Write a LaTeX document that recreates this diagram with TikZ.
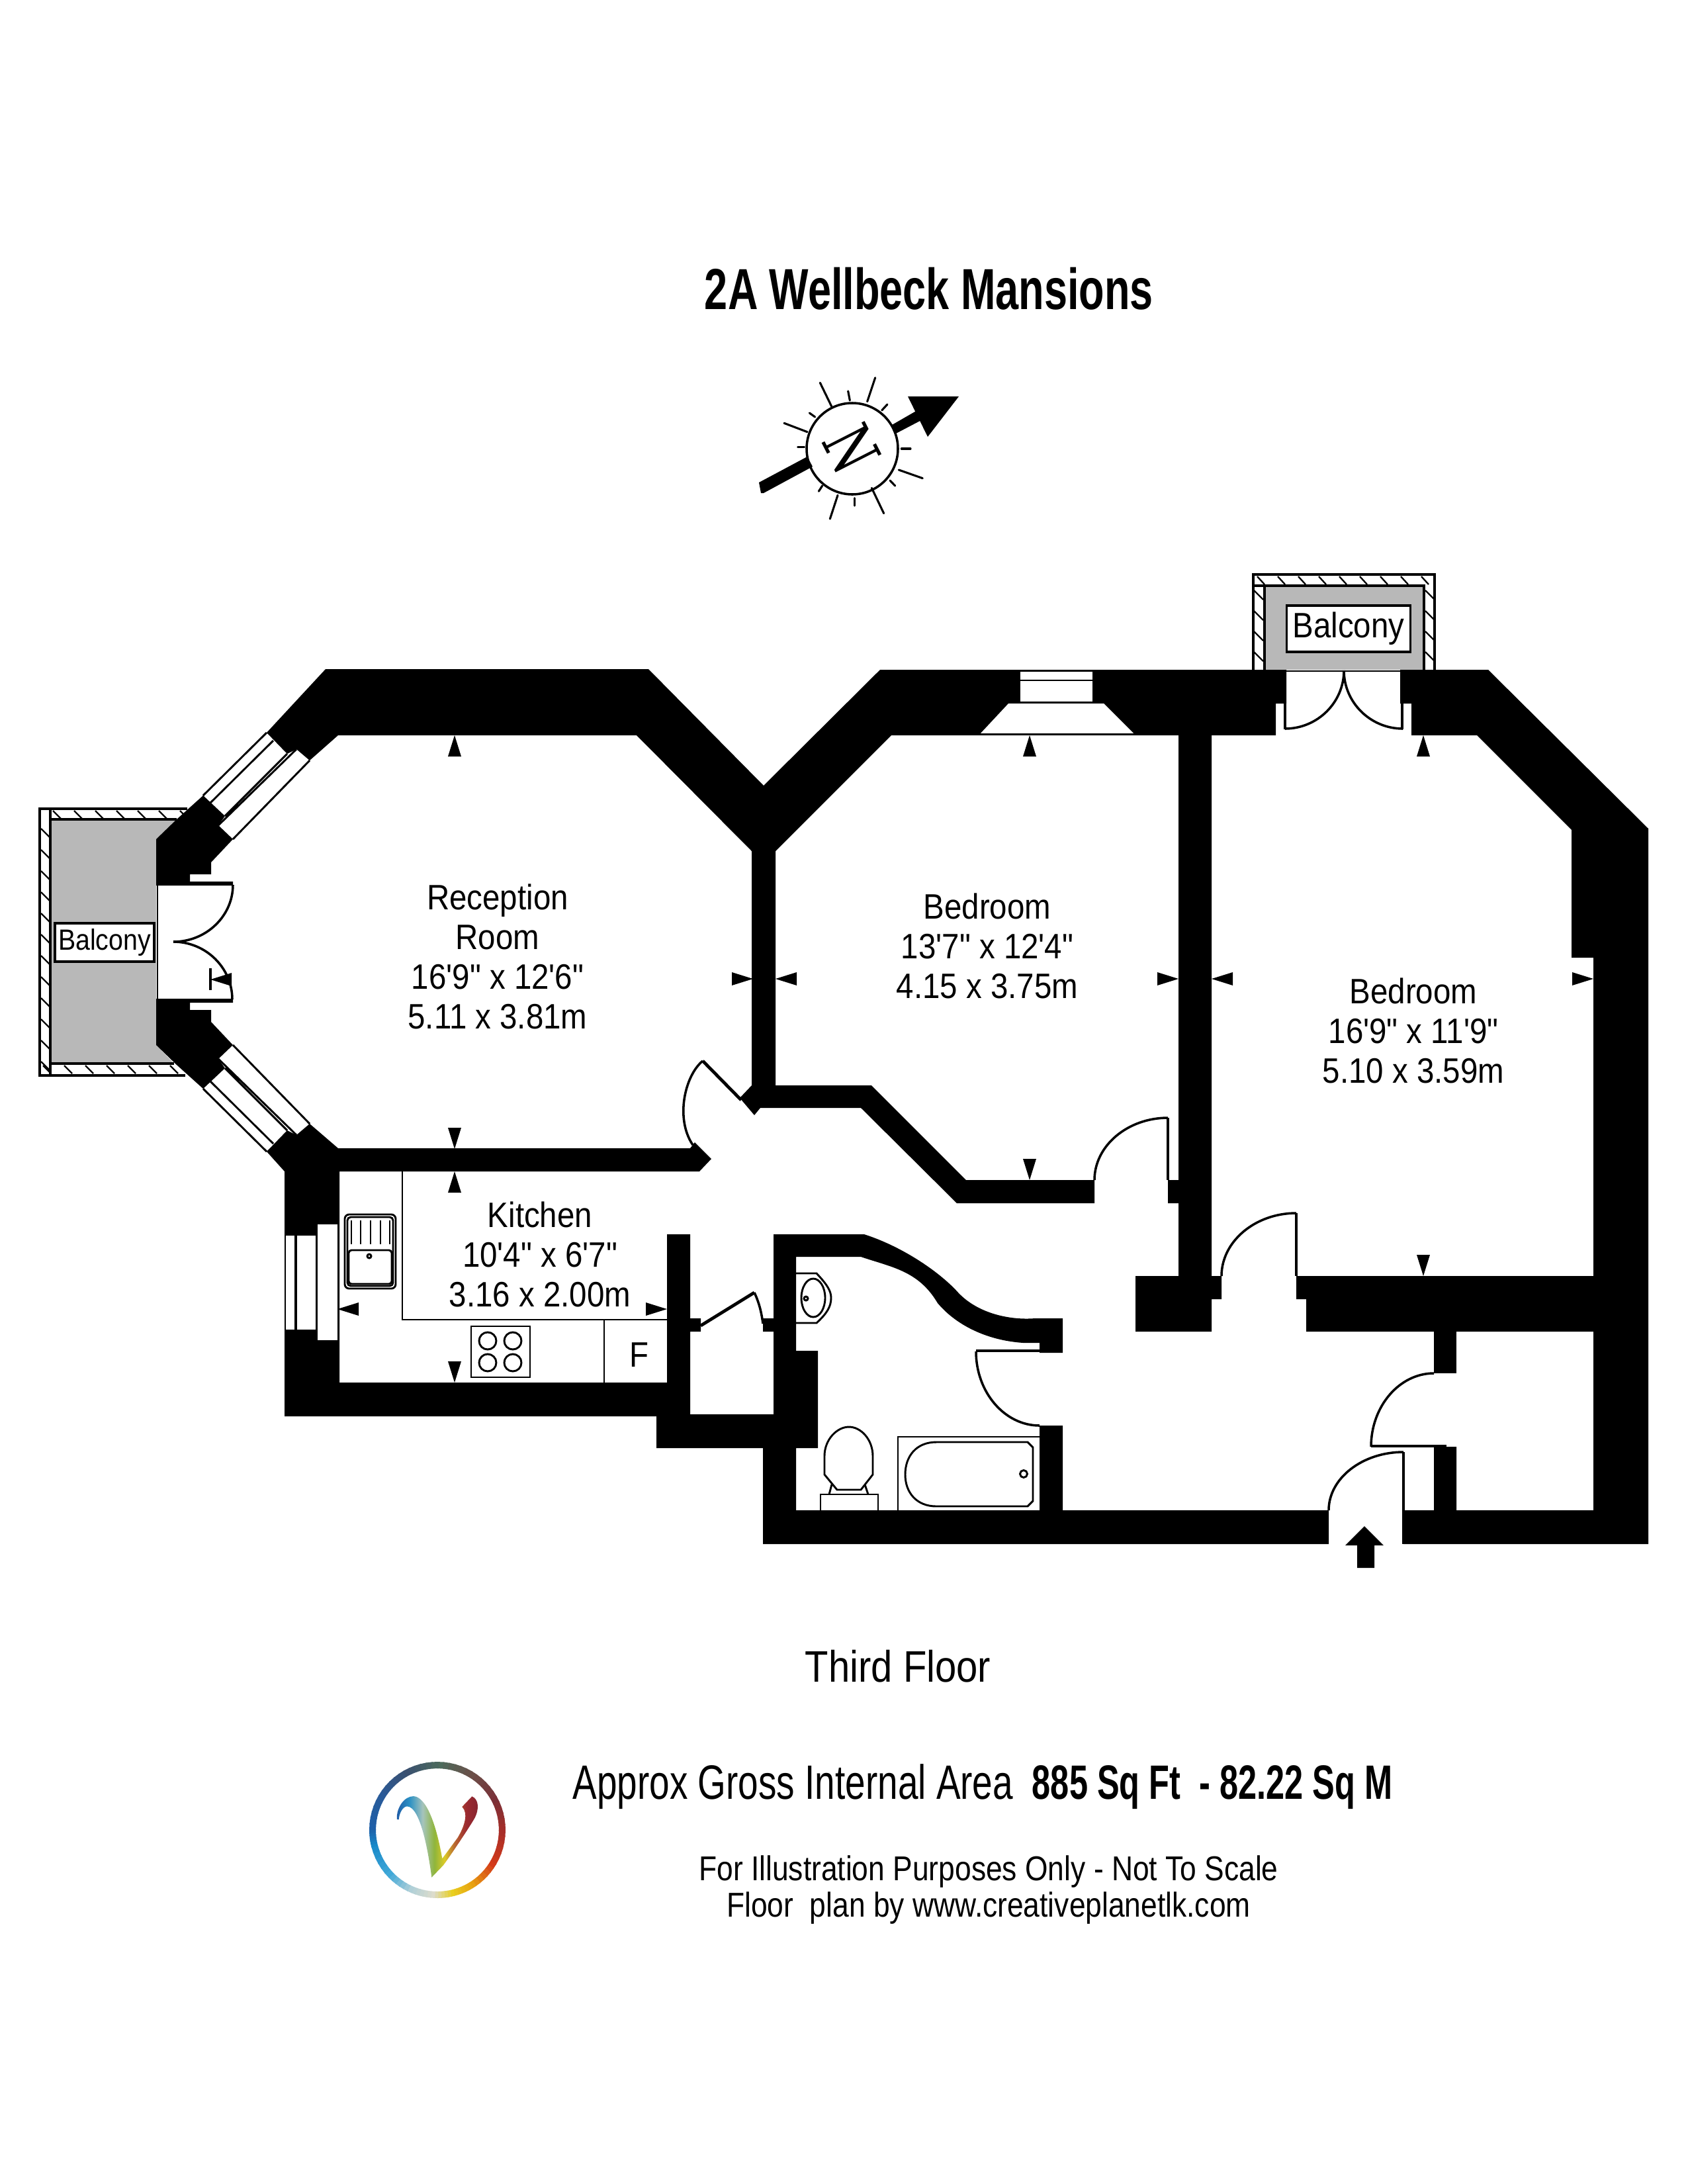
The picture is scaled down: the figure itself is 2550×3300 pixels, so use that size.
\documentclass[tikz,border=0pt]{standalone}
\usepackage{fontspec}
\usetikzlibrary{calc}
\newfontfamily\roomfont[FakeStretch=.89]{Liberation Sans}
\newfontfamily\titlefont[FakeStretch=.72]{Liberation Sans}
\newfontfamily\floorfont[FakeStretch=.87]{Liberation Sans}
\newfontfamily\areafont[FakeStretch=.753]{Liberation Sans}
\newfontfamily\areabold[FakeStretch=.693]{Liberation Sans}
\newfontfamily\notefont[FakeStretch=.852]{Liberation Sans}
\newfontfamily\compfont[FakeStretch=.72]{DejaVu Serif}
\definecolor{balc}{HTML}{B8B8B8}
\definecolor{logoa}{HTML}{4D6B5C}
\definecolor{logob}{HTML}{6B4F48}
\definecolor{logoc}{HTML}{7A3038}
\definecolor{logod}{HTML}{A82E28}
\definecolor{logoe}{HTML}{D43A1A}
\definecolor{logof}{HTML}{E8A010}
\definecolor{logog}{HTML}{E8CF20}
\definecolor{logoh}{HTML}{DCDCCC}
\definecolor{logoi}{HTML}{B0D0D8}
\definecolor{logoj}{HTML}{40A8D8}
\definecolor{logok}{HTML}{1888C8}
\definecolor{logol}{HTML}{1F5FA8}
\definecolor{logom}{HTML}{2A5A98}
\definecolor{logon}{HTML}{3A5070}
\definecolor{vblue}{HTML}{1F5AA6}
\definecolor{vsky}{HTML}{2A90C4}
\definecolor{vgrey}{HTML}{A6C4BC}
\definecolor{vgreen}{HTML}{8FB53A}
\definecolor{vyellow}{HTML}{DCCB28}
\definecolor{vbrown}{HTML}{B86630}
\definecolor{vred}{HTML}{9C2A30}
\definecolor{vdark}{HTML}{842430}
\pgfdeclarehorizontalshading{vlogo}{100bp}{
 color(0bp)=(vblue);
 color(25bp)=(vblue);
 color(33bp)=(vsky);
 color(41bp)=(vgrey);
 color(48bp)=(vgreen);
 color(54bp)=(vyellow);
 color(60bp)=(vbrown);
 color(67bp)=(vred);
 color(75bp)=(vdark);
 color(100bp)=(vdark)}
\tikzset{
 x=.24pt,y=-.24pt,
 wall/.style={fill=black,draw=none},
 thinline/.style={draw=black,line width=.7pt},
 doorline/.style={draw=black,line width=.85pt},
 leaf/.style={draw=black,line width=1.15pt},
 hatchline/.style={draw=black,line width=.55pt},
 band/.style={draw=black,line width=.85pt},
 roomtext/.style={font=\roomfont\fontsize{12.8}{14.4}\selectfont,align=center,inner sep=0pt},
 balctext/.style={fill=white,draw=black,line width=.8pt,inner sep=0pt,align=center},
 ray/.style={draw=black,line width=.75pt,line cap=round},
}
\newcommand\swing[3]{\draw[doorline] (#1) .. controls ($(#1)!.55!(#3)$) and ($(#2)!.55!(#3)$) .. (#2);}
\newcommand\tup[2]{\fill (#1,#2) -- ++(-10,32) -- ++(20,0) -- cycle;}
\newcommand\tdown[2]{\fill (#1,#2) -- ++(-10,-32) -- ++(20,0) -- cycle;}
\newcommand\tleft[2]{\fill (#1,#2) -- ++(32,-10) -- ++(0,20) -- cycle;}
\newcommand\tright[2]{\fill (#1,#2) -- ++(-32,-10) -- ++(0,20) -- cycle;}
\begin{document}
\begin{tikzpicture}
\useasboundingbox (0,0) rectangle (2550,3300);
\fill[white] (0,0) rectangle (2550,3300);

% title
\node[font=\titlefont\bfseries\fontsize{21}{25}\selectfont,inner sep=0pt] (title) at (1404,436) {2A Wellbeck Mansions};

% compass
\fill (1150,745) -- ++(4,0) -- (1228,705) -- (1220,690) -- (1147,729) -- cycle;
\fill (1348,642) -- (1354,655) -- (1396,633) -- (1388,619) -- cycle;
\fill (1372,599) -- (1449,599) -- (1402,660) -- cycle;
\draw[line width=.85pt] (1288,678) circle[radius=69];
\foreach \ax/\ay/\bx/\by in {478/115/530/222,728/92/692/200,315/298/420/338,835/510/943/548,558/625/523/732,712/592/767/707,605/153/613/195,783/213/758/240,430/252/455/270,377/407/407/407,847/414/888/414,795/558/818/582,488/582/472/607,635/638/635/672}
  \draw[ray] ({1080+\ax/3},{540+\ay/3}) -- ({1080+\bx/3},{540+\by/3});
\node[font=\compfont\fontsize{24}{28}\selectfont,rotate=-63,inner sep=0pt] (north) at (1287,678) {N};

% left balcony
\fill[white] (60,1222) -- (283,1222) -- (267,1238) -- (236,1268) -- (236,1579) -- (267,1609) -- (280,1625) -- (60,1625) -- cycle;
\fill[balc] (77,1238) -- (267,1238) -- (236,1268) -- (236,1579) -- (263,1607) -- (77,1607) -- cycle;
\draw[band] (283,1222) -- (60,1222) -- (60,1625) -- (280,1625);
\draw[band] (76,1222) -- (76,1625);
\draw[band] (267,1238) -- (76,1238);
\draw[band] (76,1607) -- (263,1607);
\foreach \k in {0,...,6} {
  \draw[hatchline] ({80+32*\k},1225) -- ++(12,12);
  \draw[hatchline] ({65+32*\k},1610) -- ++(12,12);
}
\foreach \k in {0,...,11} \draw[hatchline] (62,{1252+32*\k}) -- ++(13,13);
\node[balctext,minimum width=36pt,minimum height=13.9pt,font=\roomfont\fontsize{10.6}{12}\selectfont] (balconyL) at (158,1424) {Balcony};

% top balcony
\fill[white] (1894,868) rectangle (2168,1012);
\fill[balc] (1911,885) rectangle (2152,1012);
\draw[band] (1894,1012) -- (1894,868) -- (2168,868) -- (2168,1012);
\draw[band] (1911,1012) -- (1911,885) -- (2152,885) -- (2152,1012);
\draw[band] (1894,885) -- (1911,885);
\foreach \k in {0,...,8} \draw[hatchline] ({1900+31*\k},871) -- ++(11,12);
\foreach \k in {0,...,3} {
  \draw[hatchline] (1895,{892+31*\k}) -- ++(14,14);
  \draw[hatchline] (2154,{892+31*\k}) -- ++(13,13);
}
\node[balctext,minimum width=45pt,minimum height=16.8pt,font=\roomfont\fontsize{12.8}{14}\selectfont] (balconyT) at (2038,950) {Balcony};

% walls
\fill[wall] (403,1107) -- (492,1011) -- (980,1011) -- (1154,1187) -- (1330,1012) -- (1944,1012) -- (1944,1063) -- (1928,1063) -- (1928,1111) -- (1347,1111) -- (1172,1286) -- (1172,1640) -- (1317,1640) -- (1460,1783) -- (1654,1783) -- (1654,1818) -- (1446,1818) -- (1301,1674) -- (1149,1674) -- (1140,1685) -- (1118,1659) -- (1136,1640) -- (1136,1286) -- (962,1111) -- (511,1111) -- (468,1149) -- (448,1132) -- (434,1139) -- cycle;
\fill[wall] (1781,1100) -- (1831,1100) -- (1831,1928) -- (1846,1928) -- (1846,1963) -- (1831,1963) -- (1831,2012) -- (1716,2012) -- (1716,1928) -- (1781,1928) -- (1781,1818) -- (1765,1818) -- (1765,1783) -- (1781,1783) -- cycle;
\fill[wall] (2133,1111) -- (2133,1063) -- (2116,1063) -- (2116,1012) -- (2249,1012) -- (2491,1252) -- (2491,2333) -- (2121,2333) -- (2121,2282) -- (2167,2282) -- (2167,2186) -- (2201,2186) -- (2201,2282) -- (2408,2282) -- (2408,1447) -- (2375,1447) -- (2375,1254) -- (2232,1111) -- cycle;
\fill[wall] (1959,1928) -- (2412,1928) -- (2412,2012) -- (1974,2012) -- (1974,1963) -- (1959,1963) -- cycle;
\fill[wall] (2167,2012) rectangle (2201,2075);
\fill[wall] (403,1740) -- (434,1708) -- (448,1715) -- (468,1698) -- (511,1735) -- (1043,1735) -- (1050,1726) -- (1075,1751) -- (1057,1770) -- (513,1770) -- (513,2089) -- (1008,2089) -- (1008,1865) -- (1043,1865) -- (1043,1992) -- (1059,1992) -- (1059,2012) -- (1043,2012) -- (1043,2137) -- (1169,2137) -- (1169,2012) -- (1153,2012) -- (1153,1992) -- (1169,1992) -- (1169,1865) -- (1306,1865) .. controls (1368,1885) and (1423,1925) .. (1448,1953) .. controls (1478,1985) and (1527,1995) .. (1564,1992) -- (1606,1992) -- (1606,2044) -- (1571,2044) -- (1571,2029) -- (1546,2029) .. controls (1488,2025) and (1443,2000) .. (1417,1969) .. controls (1388,1920) and (1348,1915) .. (1301,1899) -- (1203,1899) -- (1203,2041) -- (1236,2041) -- (1236,2188) -- (1203,2188) -- (1203,2282) -- (1571,2282) -- (1571,2154) -- (1606,2154) -- (1606,2282) -- (2008,2282) -- (2008,2333) -- (1153,2333) -- (1153,2188) -- (992,2188) -- (992,2140) -- (430,2140) -- (430,1770) -- cycle;
\fill[wall] (236,1268) -- (267,1238) -- (307,1202) -- (340,1233) -- (330,1247) -- (352,1268) -- (319,1303) -- (319,1321) -- (287,1321) -- (287,1332) -- (352,1332) -- (352,1338) -- (236,1338) -- cycle;
\fill[wall] (236,1579) -- (267,1609) -- (307,1645) -- (340,1614) -- (330,1600) -- (352,1579) -- (319,1544) -- (319,1526) -- (287,1526) -- (287,1515) -- (352,1515) -- (352,1509) -- (236,1509) -- cycle;

% windows
\draw[thinline] (307,1202) -- (403,1107) (318,1213) -- (413,1119) (340,1233) -- (434,1139) (330,1247) -- (448,1132) (352,1268) -- (468,1149);
\draw[thinline] (307,1645) -- (403,1740) (318,1634) -- (413,1728) (340,1614) -- (434,1708) (330,1600) -- (448,1715) (352,1579) -- (468,1698);
\fill[white] (432,1867) rectangle (445,2009);
\fill[white] (449,1867) rectangle (477,2009);
\fill[white] (480,1850) rectangle (510,2025);
\fill[white] (1542,1015) rectangle (1651,1060);
\draw[line width=.7pt] (1542,1028) -- (1651,1028);
\fill[white] (1524,1063) -- (1668,1063) -- (1713,1108) -- (1482,1108) -- cycle;

% doors
\draw[line width=.7pt] (238,1337) -- (238,1510);
\swing{352,1337}{262,1423}{352,1423}
\swing{351,1510}{262,1423}{351,1423}
\draw[thinline] (1944,1014) -- (2116,1014);
\draw[leaf] (1942,1063) -- (1942,1102);
\draw[leaf] (2119,1063) -- (2119,1102);
\swing{1942,1101}{2031,1013}{2031,1101}
\swing{2120,1101}{2031,1013}{2031,1101}
\draw[leaf] (1062,1603) -- (1120,1662);
\draw[doorline] (1062,1603) .. controls (1035,1625) and (1020,1690) .. (1047,1730);
\draw[doorline] (1765,1689) -- (1765,1783);
\swing{1765,1689}{1654,1783}{1654,1689}
\draw[doorline] (1959,1833) -- (1959,1928);
\swing{1959,1833}{1846,1928}{1846,1833}
\draw[leaf] (1475,2041) -- (1589,2041);
\swing{1475,2042}{1571,2154}{1475,2154}
\draw[leaf] (2072,2185) -- (2186,2185);
\swing{2072,2186}{2167,2075}{2072,2075}
\draw[doorline] (2121,2194) -- (2121,2333);
\swing{2121,2194}{2008,2282}{2008,2194}
\draw[leaf] (1059,2003) -- (1140,1953);
\draw[doorline] (1140,1953) .. controls (1148,1970) and (1151,1985) .. (1153,2000);
\draw[line width=.9pt] (318,1463) -- (318,1496);

% kitchen
\draw[thinline] (608,1770) -- (608,1994) -- (1008,1994);
\draw[thinline] (913,1994) -- (913,2089);
\draw[thinline,rounded corners=1.6pt] (521,1835) rectangle (598,1947);
\draw[thinline,rounded corners=1.2pt] (525,1839) rectangle (594,1943);
\draw[thinline,rounded corners=1pt] (527,1889) rectangle (592,1940);
\foreach \x in {531,545,560,575,589} \draw[thinline] (\x,1844) -- (\x,1880);
\draw[thinline] (558,1898) circle[radius=3];
\draw[thinline] (712,2004) rectangle (801,2081);
\foreach \x in {737,775} \foreach \y in {2026,2059} \draw[thinline] (\x,\y) circle[radius=13];
\node[font=\roomfont\fontsize{12.8}{14}\selectfont,inner sep=0pt] (fridge) at (966,2047) {F};

% bathroom
\draw[thinline] (1203,1924) -- (1234,1924) .. controls (1249,1940) and (1256,1950) .. (1256,1961) .. controls (1256,1975) and (1249,1985) .. (1234,1999) -- (1203,1999);
\draw[thinline] (1229,1961) ellipse[x radius=18,y radius=29];
\draw[thinline] (1218,1962) circle[radius=3];
\draw[thinline] (1240,2282) -- (1240,2258) -- (1327,2258) -- (1327,2282);
\draw[thinline] (1265,2251) -- (1301,2251) -- (1319,2228) -- (1319,2200) .. controls (1319,2175) and (1301,2156) .. (1283,2156) .. controls (1265,2156) and (1246,2175) .. (1246,2200) -- (1246,2228) -- cycle;
\draw[thinline] (1257,2243) -- (1253,2258) (1307,2243) -- (1312,2258);
\draw[thinline] (1357,2282) -- (1357,2171) -- (1571,2171);
\draw[thinline] (1415,2179) -- (1553,2179) -- (1561,2187) -- (1561,2268) -- (1553,2276) -- (1415,2276) .. controls (1385,2276) and (1368,2255) .. (1368,2228) .. controls (1368,2200) and (1385,2179) .. (1415,2179) -- cycle;
\draw[thinline] (1547,2227) circle[radius=5.5];

% entrance arrow
\fill (2062,2306) -- (2091,2335) -- (2077,2335) -- (2077,2369) -- (2051,2369) -- (2051,2335) -- (2033,2335) -- cycle;

% dimension marks
\tup{687}{1111}\tup{687}{1770}\tup{1556}{1111}\tup{2151}{1111}
\tdown{687}{1736}\tdown{687}{2089}\tdown{1556}{1783}\tdown{2151}{1928}
\tright{1138}{1479}\tright{1781}{1479}\tright{2408}{1479}\tright{1008}{1978}
\tleft{1172}{1479}\tleft{1831}{1479}\tleft{510}{1978}\tleft{318}{1480}

% room labels
\node[roomtext] (reception) at (752,1445) {Reception\\Room\\16'9" x 12'6"\\5.11 x 3.81m};
\node[roomtext] (bed1) at (1492,1429) {Bedroom\\13'7" x 12'4"\\4.15 x 3.75m};
\node[roomtext] (bed2) at (2136,1557) {Bedroom\\16'9" x 11'9"\\5.10 x 3.59m};
\node[roomtext] (kitchen) at (816,1895) {Kitchen\\10'4" x 6'7"\\3.16 x 2.00m};

% footer
\node[font=\floorfont\fontsize{16}{19}\selectfont,inner sep=0pt] (floor) at (1357,2518) {Third Floor};
\node[font=\areafont\fontsize{17.5}{21}\selectfont,inner sep=0pt,anchor=base west] (area) at (865,2718) {Approx Gross Internal Area};
\node[font=\areabold\bfseries\fontsize{17.5}{21}\selectfont,inner sep=0pt,anchor=base west] (areaval) at (1559,2718) {885 Sq Ft\ \ - 82.22 Sq M};
\node[font=\notefont\fontsize{12.5}{13.2}\selectfont,align=center,inner sep=0pt] (note) at (1494,2855) {For Illustration Purposes Only - Not To Scale\\Floor\ \ plan by www.creativeplanetlk.com};

% logo
\def\lx{661}\def\ly{2765}
\foreach \aa/\ab/\ca/\cb in {
 90/60/logoa/logob, 60/30/logob/logoc, 30/0/logoc/logod, 0/-30/logod/logoe,
 -30/-55/logoe/logof, -55/-75/logof/logog, -75/-92/logog/logoh, -92/-112/logoh/logoi,
 -112/-135/logoi/logoj, -135/-165/logoj/logok, -165/-180/logok/logol, -180/-210/logol/logom,
 -210/-240/logom/logon, -240/-270/logon/logoa} {
  \foreach \t in {0,...,5} {
    \pgfmathsetmacro\s{\aa+(\ab-\aa)*\t/6}
    \pgfmathsetmacro\e{\aa+(\ab-\aa)*(\t+1.2)/6}
    \pgfmathtruncatemacro\m{100-\t*100/6}
    \draw[line width=2.4pt,color=\ca!\m!\cb] ({\lx+98*cos(\s)},{\ly-98*sin(\s)}) -- ({\lx+98*cos(\e)},{\ly-98*sin(\e)});
  }
}
\shade[shading=vlogo] ({520+240/3},{2600+447/3})
 .. controls ({520+235/3},{2600+400/3}) and ({520+270/3},{2600+342/3}) .. ({520+315/3},{2600+342/3})
 .. controls ({520+375/3},{2600+345/3}) and ({520+420/3},{2600+480/3}) .. ({520+445/3},{2600+625/3})
 -- ({520+515/3},{2600+530/3})
 .. controls ({520+545/3},{2600+480/3}) and ({520+565/3},{2600+420/3}) .. ({520+535/3},{2600+390/3})
 -- ({520+580/3},{2600+343/3})
 .. controls ({520+610/3},{2600+355/3}) and ({520+615/3},{2600+400/3}) .. ({520+590/3},{2600+445/3})
 .. controls ({520+560/3},{2600+495/3}) and ({520+490/3},{2600+600/3}) .. ({520+450/3},{2600+655/3})
 -- ({520+397/3},{2600+710/3})
 .. controls ({520+385/3},{2600+620/3}) and ({520+350/3},{2600+388/3}) .. ({520+285/3},{2600+388/3})
 .. controls ({520+265/3},{2600+390/3}) and ({520+250/3},{2600+420/3}) .. ({520+248/3},{2600+448/3})
 -- cycle;
\end{tikzpicture}
\end{document}
